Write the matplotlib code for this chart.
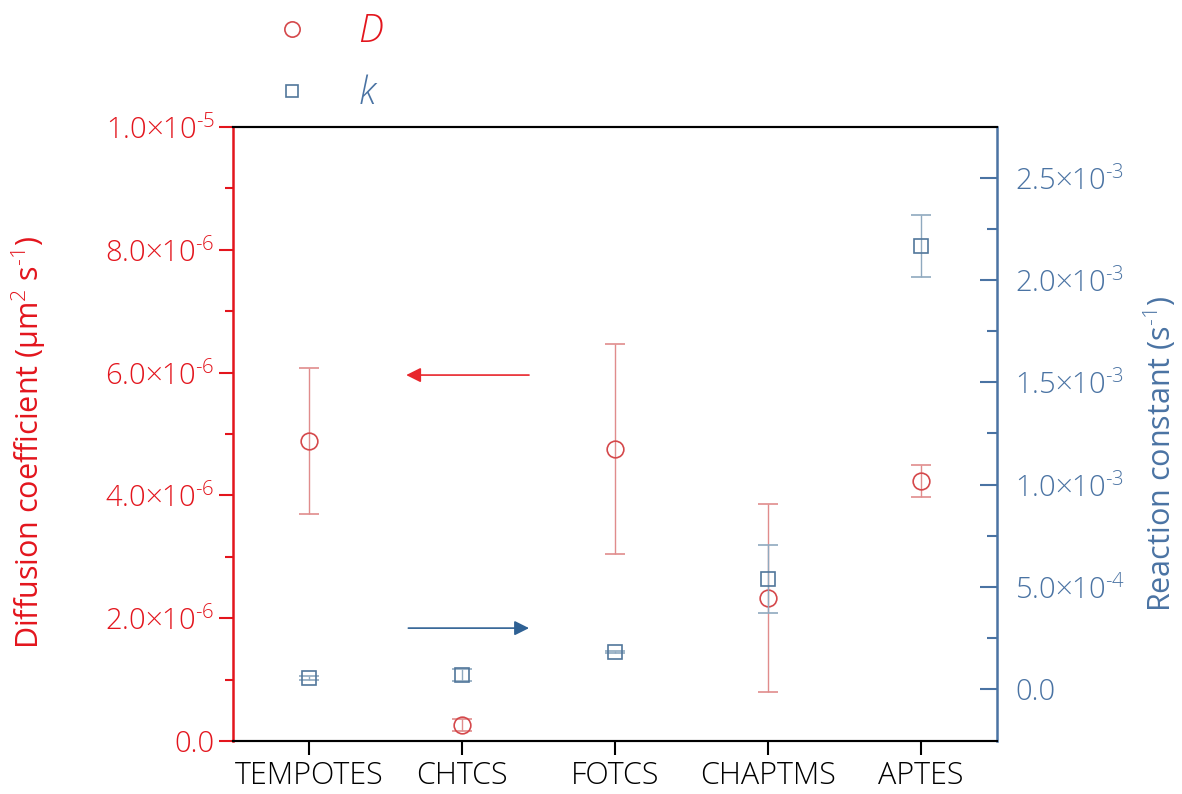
import matplotlib
matplotlib.use('Agg')
import matplotlib.pyplot as plt
from matplotlib.lines import Line2D
import numpy as np

plt.rcParams['font.family'] = ['Open Sans', 'DejaVu Sans']
plt.rcParams['font.weight'] = 'light'
plt.rcParams['mathtext.fontset'] = 'custom'
plt.rcParams['mathtext.rm'] = 'Open Sans:light'
plt.rcParams['mathtext.it'] = 'Open Sans:italic'

# data
samples = ['TEMPOTES', 'CHTCS', 'FOTCS', 'CHAPTMS', 'APTES']
D = [4.88e-6, 0.26e-6, 4.76e-6, 2.33e-6, 4.23e-6]
D_err = [1.19e-6, 0.10e-6, 1.71e-6, 1.53e-6, 0.26e-6]
k = [0.054e-3, 0.068e-3, 0.181e-3, 0.538e-3, 2.167e-3]
k_err = [0.012e-3, 0.030e-3, 0.005e-3, 0.166e-3, 0.152e-3]

left_ticks = [0, 2e-6, 4e-6, 6e-6, 8e-6, 1e-5]
left_labels = ['0.0', '2.0×10$^{\\text{-}6}$', '4.0×10$^{\\text{-}6}$',
               '6.0×10$^{\\text{-}6}$', '8.0×10$^{\\text{-}6}$', '1.0×10$^{\\text{-}5}$']
right_ticks = [0, 0.5e-3, 1.0e-3, 1.5e-3, 2.0e-3, 2.5e-3]
right_labels = ['0.0', '5.0×10$^{\\text{-}4}$', '1.0×10$^{\\text{-}3}$',
                '1.5×10$^{\\text{-}3}$', '2.0×10$^{\\text{-}3}$', '2.5×10$^{\\text{-}3}$']

red_axis = '#E3151D'
blue_axis = '#4A73A3'
red_mk = '#D5484B'
blue_mk = '#52779B'
red_err = '#E08C8C'
blue_err = '#8FA9BF'

fig = plt.figure(figsize=(11.82, 7.94), dpi=100)
ax = fig.add_axes([0.197, 0.0668, 0.6465, 0.7732])
ax2 = ax.twinx()

x = np.arange(len(samples))
ax.errorbar(x, D, yerr=D_err, fmt='o', ms=12, mfc='none', mec=red_mk, mew=1.2,
            ecolor=red_err, elinewidth=1.0, capsize=7, capthick=1.0)
ax2.errorbar(x, k, yerr=k_err, fmt='s', ms=10, mfc='none', mec=blue_mk, mew=1.2,
             ecolor=blue_err, elinewidth=1.0, capsize=7, capthick=1.0)

ax.set_xlim(-0.5, 4.5)
ax.set_ylim(0, 1e-5)
ax2.set_ylim(-0.254e-3, 2.749e-3)

ax.set_xticks(x)
ax.set_xticklabels(samples)
ax.set_yticks(left_ticks)
ax.set_yticklabels(left_labels)
ax.set_yticks(np.arange(1e-6, 1e-5, 2e-6), minor=True)
ax2.set_yticks(right_ticks)
ax2.set_yticklabels(right_labels)
ax2.set_yticks(np.arange(0.25e-3, 2.75e-3, 0.5e-3), minor=True)

ax.tick_params(axis='x', direction='out', length=10, width=1.5, labelsize=22, pad=4)
ax.tick_params(axis='y', which='major', direction='out', length=10, width=1.5,
               color=red_axis, labelcolor=red_axis, labelsize=21, pad=3)
ax.tick_params(axis='y', which='minor', direction='out', length=6, width=1.5,
               color=red_axis)
ax2.tick_params(axis='y', which='major', direction='in', length=12, width=1.5,
                color=blue_axis, labelcolor=blue_axis, labelsize=21, pad=13)
ax2.tick_params(axis='y', which='minor', direction='in', length=7, width=1.5,
                color=blue_axis)

for a in (ax, ax2):
    a.spines['top'].set_color('black')
    a.spines['bottom'].set_color('black')
    a.spines['top'].set_linewidth(1.5)
    a.spines['bottom'].set_linewidth(1.5)
ax.spines['left'].set_color(red_axis)
ax.spines['left'].set_linewidth(1.8)
ax2.spines['right'].set_color(blue_axis)
ax2.spines['right'].set_linewidth(1.8)
ax2.spines['left'].set_visible(False)
ax.spines['right'].set_visible(False)

ax.set_ylabel('Diffusion coefficient (μm$^{2}$ s$^{\\text{-}1}$)', color=red_axis,
              fontsize=22)
ax.yaxis.set_label_coords(-0.242, 0.487)
ax2.set_ylabel('Reaction constant (s$^{\\text{-}1}$)', color=blue_axis, fontsize=22)
ax2.yaxis.set_label_coords(1.189, 0.467)

# arrows
ax.annotate('', xy=(0.616, 5.96e-6), xytext=(1.456, 5.96e-6),
            arrowprops=dict(arrowstyle='-|>', color='#E8262C', lw=1.2,
                            mutation_scale=22))
ax2.annotate('', xy=(1.456, 0.298e-3), xytext=(0.63, 0.298e-3),
             arrowprops=dict(arrowstyle='-|>', color='#2F6194', lw=1.2,
                             mutation_scale=22))

# legend
handles = [Line2D([], [], ls='none', marker='o', ms=11, mfc='none', mec=red_mk, mew=1.2),
           Line2D([], [], ls='none', marker='s', ms=9, mfc='none', mec=blue_mk, mew=1.2)]
fig.legend(handles, ['$D$', '$k$'], loc='upper left', bbox_to_anchor=(0.195, 1.027),
           frameon=False, fontsize=27, labelcolor=[red_axis, blue_axis],
           handlelength=1.5, handletextpad=1.0, labelspacing=0.63)

fig.savefig('out.png', dpi=100)
